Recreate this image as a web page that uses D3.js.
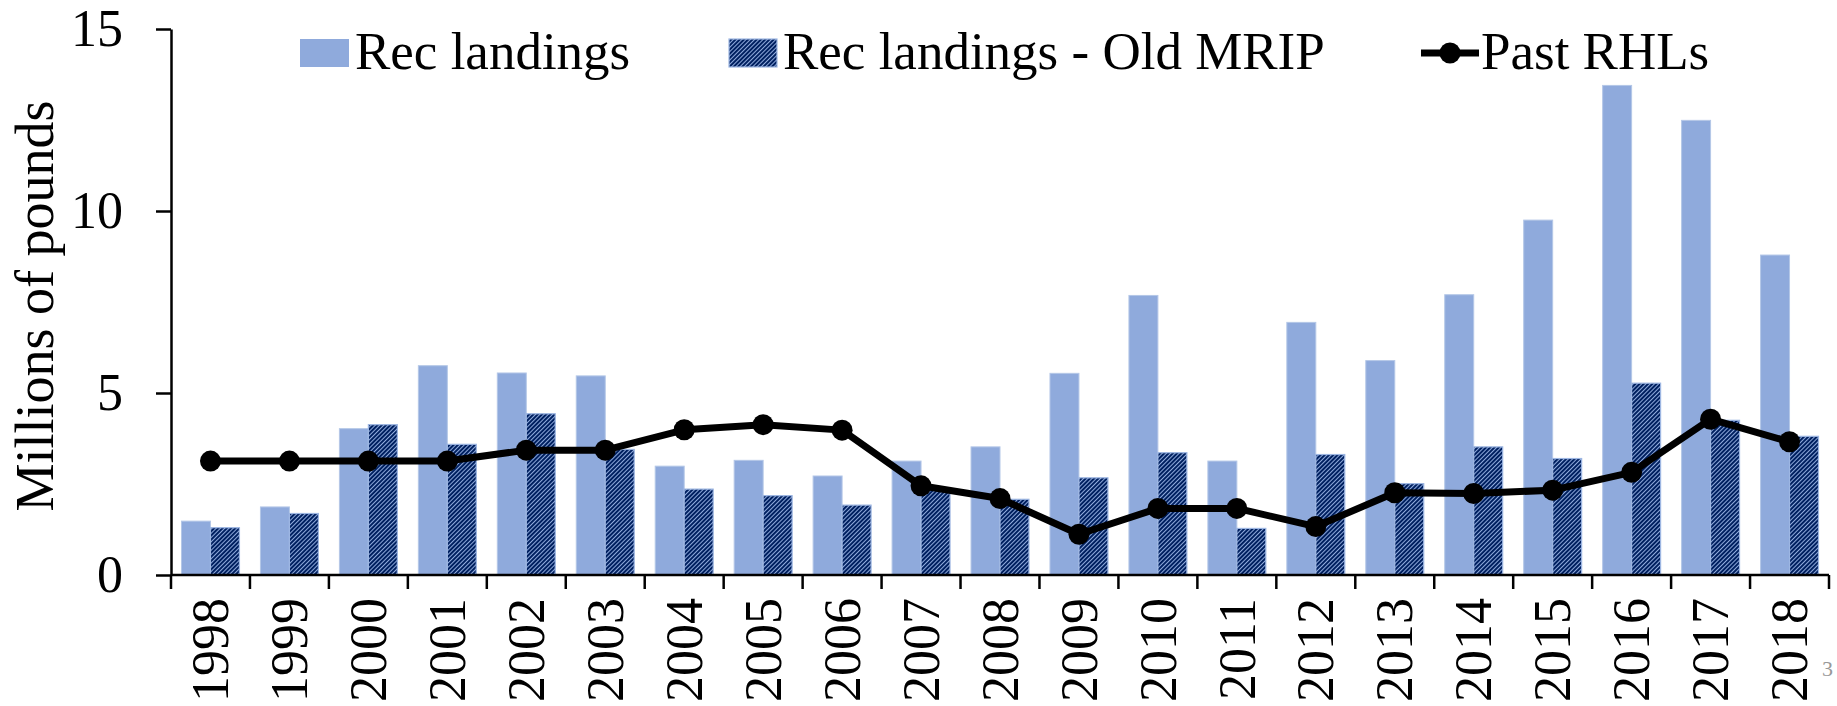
<!DOCTYPE html>
<html>
<head>
<meta charset="utf-8">
<script src="https://cdn.jsdelivr.net/npm/d3@7"></script>
<style>
  body { margin: 0; background: #fff; }
  text { font-family: "Liberation Serif", "Times New Roman", serif; }
</style>
</head>
<body>
<script>
// data (millions of pounds)
let years = ["1998", "1999", "2000", "2001", "2002", "2003", "2004", "2005", "2006", "2007", "2008",
    "2009", "2010", "2011", "2012", "2013", "2014", "2015", "2016", "2017", "2018"];
let recLandings = [1.48, 1.87, 4.02, 5.75, 5.55, 5.47, 2.99, 3.15, 2.72, 3.13, 3.52,
    5.54, 7.68, 3.13, 6.94, 5.89, 7.70, 9.75, 13.45, 12.49, 8.79];
let oldMrip = [1.30, 1.69, 4.13, 3.59, 4.43, 3.45, 2.36, 2.18, 1.92, 2.40, 2.08,
    2.67, 3.36, 1.28, 3.31, 2.51, 3.52, 3.20, 5.27, 4.25, 3.81];
let pastRhl = [3.13, 3.13, 3.13, 3.13, 3.43, 3.43, 3.99, 4.13, 3.98, 2.45, 2.10,
    1.12, 1.83, 1.83, 1.33, 2.26, 2.24, 2.33, 2.82, 4.28, 3.66];
let yTicks = [0, 5, 10, 15];

let width = 1837,
    height = 706;

let svg = d3.select("body").append("svg")
    .attr("width", width)
    .attr("height", height);

// hatch for the old MRIP bars
let pat = svg.append("defs").append("pattern")
    .attr("id", "hatch")
    .attr("patternUnits", "userSpaceOnUse")
    .attr("width", 3)
    .attr("height", 3)
    .attr("patternTransform", "rotate(45)");
pat.append("rect").attr("width", 3).attr("height", 3).attr("fill", "#002060");
pat.append("line")
    .attr("x1", 0.5).attr("y1", 0).attr("x2", 0.5).attr("y2", 3)
    .attr("stroke", "#8faadc")
    .attr("stroke-width", 1);

let x = d3.scaleBand().domain(years).range([171, 1829]);
let x1 = d3.scaleBand().domain(["rec", "old"]).range([10.5, x.bandwidth() - 10.5]);
let y = d3.scaleLinear().domain([0, 15]).range([575, 29]);

// bars
let groups = svg.selectAll(".yr")
    .data(years)
    .enter().append("g")
    .attr("class", "yr")
    .attr("transform", d => "translate(" + x(d) + ",0)");

groups.append("rect")
    .attr("x", x1("rec"))
    .attr("width", x1.bandwidth())
    .attr("y", (d, i) => y(recLandings[i]))
    .attr("height", (d, i) => y(0) - y(recLandings[i]))
    .attr("fill", "#8faadc")
    .attr("stroke", "#b4c7e7")
    .attr("stroke-width", 1);

groups.append("rect")
    .attr("x", x1("old"))
    .attr("width", x1.bandwidth())
    .attr("y", (d, i) => y(oldMrip[i]))
    .attr("height", (d, i) => y(0) - y(oldMrip[i]))
    .attr("fill", "url(#hatch)")
    .attr("stroke", "#9db6e2")
    .attr("stroke-width", 1.2);

// RHL line
let cx = d => x(d) + x.bandwidth() / 2;
let line = d3.line()
    .x((d, i) => cx(years[i]))
    .y(d => y(d));

svg.append("path")
    .datum(pastRhl)
    .attr("d", line)
    .attr("fill", "none")
    .attr("stroke", "#000")
    .attr("stroke-width", 7)
    .attr("stroke-linejoin", "round");

svg.selectAll(".dot")
    .data(pastRhl)
    .enter().append("circle")
    .attr("class", "dot")
    .attr("cx", (d, i) => cx(years[i]))
    .attr("cy", d => y(d))
    .attr("r", 10.5)
    .attr("fill", "#000");

// y axis
let yAxis = svg.append("g")
    .attr("transform", "translate(171,0)")
    .call(d3.axisLeft(y).tickValues(yTicks).tickSize(15).tickSizeOuter(0).tickPadding(33));
yAxis.select(".domain").attr("stroke-width", 2.5);
yAxis.selectAll(".tick line").attr("stroke-width", 2.5);
yAxis.selectAll("text")
    .attr("font-size", 52)
    .attr("font-family", "Liberation Serif")
    .attr("fill", "#000");

// x axis: ticks sit on the band edges
let edges = years.map(d => x(d)).concat([x.range()[1]]);
svg.append("line")
    .attr("x1", x.range()[0]).attr("x2", x.range()[1])
    .attr("y1", y(0)).attr("y2", y(0))
    .attr("stroke", "#000").attr("stroke-width", 2.5);
svg.selectAll(".xtick")
    .data(edges)
    .enter().append("line")
    .attr("class", "xtick")
    .attr("x1", d => d).attr("x2", d => d)
    .attr("y1", y(0)).attr("y2", y(0) + 14)
    .attr("stroke", "#000").attr("stroke-width", 2.5);

svg.selectAll(".xlab")
    .data(years)
    .enter().append("text")
    .attr("class", "xlab")
    .attr("transform", d => "translate(" + cx(d) + ",598) rotate(-90)")
    .attr("text-anchor", "end")
    .attr("dy", "0.34em")
    .attr("font-size", 52)
    .text(d => d);

svg.append("text")
    .attr("transform", "translate(53,306) rotate(-90)")
    .attr("text-anchor", "middle")
    .attr("font-size", 54)
    .text("Millions of pounds");

// legend
let legend = svg.append("g");
legend.append("rect")
    .attr("x", 300).attr("y", 39).attr("width", 49).attr("height", 28)
    .attr("fill", "#8faadc");
legend.append("text")
    .attr("x", 355).attr("y", 69)
    .attr("font-size", 53)
    .text("Rec landings");

legend.append("rect")
    .attr("x", 729).attr("y", 39).attr("width", 48).attr("height", 28)
    .attr("fill", "url(#hatch)")
    .attr("stroke", "#9db6e2").attr("stroke-width", 1.2);
legend.append("text")
    .attr("x", 783).attr("y", 69)
    .attr("font-size", 53)
    .text("Rec landings - Old MRIP");

legend.append("line")
    .attr("x1", 1421).attr("x2", 1479).attr("y1", 53).attr("y2", 53)
    .attr("stroke", "#000").attr("stroke-width", 7);
legend.append("circle")
    .attr("cx", 1450).attr("cy", 53).attr("r", 10.5)
    .attr("fill", "#000");
legend.append("text")
    .attr("x", 1481).attr("y", 69)
    .attr("font-size", 53)
    .text("Past RHLs");

// slide number at the right edge
svg.append("text")
    .attr("x", 1822).attr("y", 676)
    .attr("font-size", 22)
    .attr("fill", "#999")
    .text("3");
</script>
</body>
</html>
